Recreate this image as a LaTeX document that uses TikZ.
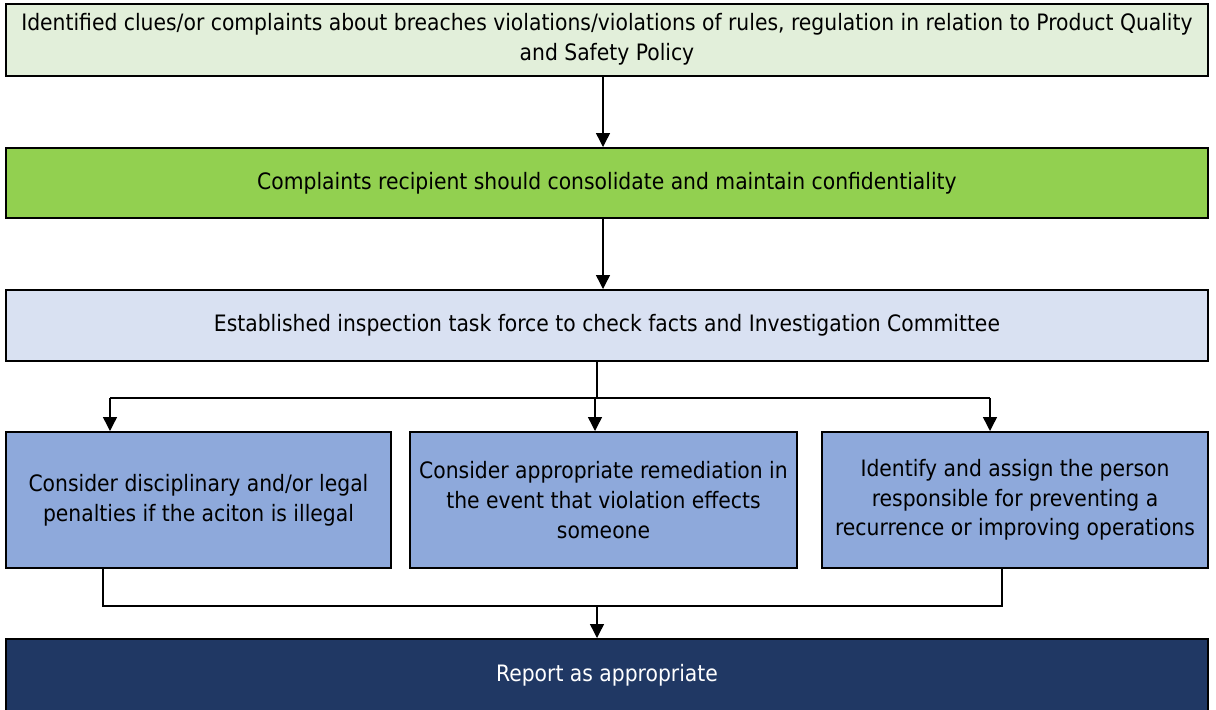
\documentclass[tikz,border=0pt]{standalone}
\usepackage{fontspec}
\setmainfont{DejaVu Sans Condensed}
\usepackage{tikz}
\usetikzlibrary{arrows.meta}
\definecolor{clueclr}{HTML}{E2EFDA}
\definecolor{recipclr}{HTML}{92D050}
\definecolor{taskclr}{HTML}{D9E1F2}
\definecolor{actclr}{HTML}{8EA9DB}
\definecolor{reportclr}{HTML}{203864}
\tikzset{
  stepbox/.style={draw=black, line width=1pt, inner sep=2pt, align=center, font=\fontsize{11.3}{14.8}\selectfont},
  wide/.style={stepbox, minimum width=601pt},
  act/.style={stepbox, minimum height=68pt},
  link/.style={line width=0.7pt, -{Triangle[width=7pt,length=7pt]}},
  plain/.style={line width=0.7pt}
}

\begin{document}
\begin{tikzpicture}[x=0.5pt,y=-0.5pt]
        \useasboundingbox (0,0) rectangle (1216,709);
        % row1
        \node[wide, fill=clueclr, minimum height=36pt] (clue) at (607,39.5)
            {Identified clues/or complaints about breaches violations/violations of rules, regulation in relation to Product Quality\\and Safety Policy};
        % row2
        \node[wide, fill=recipclr, minimum height=35pt] (recip) at (607,183) {Complaints recipient should consolidate and maintain confidentiality};
        % row3
        \node[wide, fill=taskclr, minimum height=35.5pt] (task) at (607,325.5) {Established inspection task force to check facts and Investigation Committee};
        % row4
        \node[act, fill=actclr, minimum width=192.5pt] (penal) at (198.5,500) {Consider disciplinary and/or legal\\penalties if the aciton is illegal};
        \node[act, fill=actclr, minimum width=193.5pt] (remed) at (603.5,500) {Consider appropriate remediation in\\the event that violation effects\\someone};
        \node[act, fill=actclr, minimum width=193pt] (assign) at (1015,500) {Identify and assign the person\\responsible for preventing a\\recurrence or improving operations};
        % row5
        \node[wide, fill=reportclr, text=white, minimum height=36pt, anchor=north] (report) at (607,638) {Report as appropriate};

        % arrows
        \draw[link] (clue.south -| 603,0) -- (recip.north -| 603,0);
        \draw[link] (recip.south -| 603,0) -- (task.north -| 603,0);
        \coordinate (split) at (597,398);
        \draw[plain] (task.south -| split) -- (split);
        \draw[plain] (110,398) -- (990,398);
        \draw[link] (110,398) -- (penal.north -| 110,0);
        \draw[link] (595,398) -- (remed.north -| 595,0);
        \draw[link] (990,398) -- (assign.north -| 990,0);
        \coordinate (join) at (597,606);
        \draw[plain] (penal.south -| 103,0) -- (103,606) -- (1002,606) -- (assign.south -| 1002,0);
        \draw[link] (join) -- (report.north -| join);
    \end{tikzpicture}
\end{document}
